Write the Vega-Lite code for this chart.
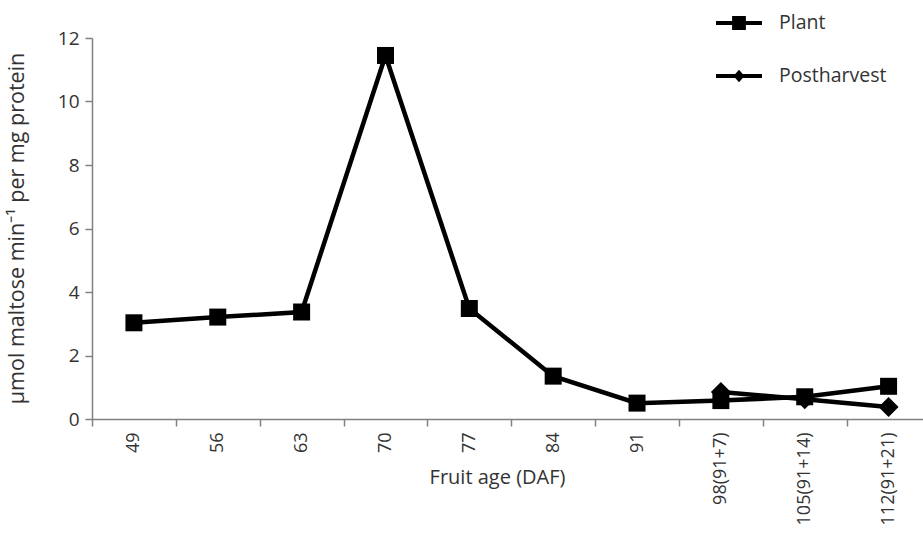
{
  "$schema": "https://vega.github.io/schema/vega-lite/v6.json",
  "autosize": "none",
  "width": 831,
  "height": 381,
  "padding": {"left": 92, "top": 38, "right": 0, "bottom": 114},
  "background": "white",
  "config": {
    "view": {"stroke": null},
    "font": "Open Sans",
    "axis": {"labelFont": "Open Sans", "titleFont": "Open Sans", "labelColor": "#333333", "titleColor": "#333333", "domainColor": "#808080", "tickColor": "#808080", "domainWidth": 1.5, "tickWidth": 1.5, "grid": false, "titleFontWeight": "normal"},
    "legend": {"labelFont": "Open Sans", "labelColor": "#333333"}
  },
  "data": {
    "values": [
      {"age": "49", "series": "Plant", "value": 3.03},
      {"age": "56", "series": "Plant", "value": 3.21},
      {"age": "63", "series": "Plant", "value": 3.37},
      {"age": "70", "series": "Plant", "value": 11.45},
      {"age": "77", "series": "Plant", "value": 3.48},
      {"age": "84", "series": "Plant", "value": 1.35},
      {"age": "91", "series": "Plant", "value": 0.5},
      {"age": "98(91+7)", "series": "Plant", "value": 0.58},
      {"age": "105(91+14)", "series": "Plant", "value": 0.7},
      {"age": "112(91+21)", "series": "Plant", "value": 1.03},
      {"age": "98(91+7)", "series": "Postharvest", "value": 0.85},
      {"age": "105(91+14)", "series": "Postharvest", "value": 0.62},
      {"age": "112(91+21)", "series": "Postharvest", "value": 0.38}
    ]
  },
  "encoding": {
    "x": {
      "field": "age", "type": "ordinal",
      "scale": {"type": "band", "domain": ["49", "56", "63", "70", "77", "84", "91", "98(91+7)", "105(91+14)", "112(91+21)"], "range": [0, 838.5], "paddingInner": 0, "paddingOuter": 0},
      "axis": {"title": "Fruit age (DAF)", "labelAngle": 270, "labelFontSize": 18, "titleFontSize": 20, "tickBand": "extent", "tickSize": 7, "labelPadding": 6, "titleX": 405, "titleY": 58, "titleBaseline": "middle", "titleAnchor": "middle", "titleAlign": "center"}
    },
    "y": {
      "field": "value", "type": "quantitative",
      "scale": {"domain": [0, 12], "nice": false, "zero": true},
      "axis": {"title": "µmol maltose min⁻¹ per mg protein", "values": [0, 2, 4, 6, 8, 10, 12], "labelFontSize": 19, "titleFontSize": 21.5, "tickSize": 7, "labelPadding": 6, "titleX": -75, "titleY": 190, "titleAngle": 270, "titleBaseline": "middle", "titleAlign": "center", "titleAnchor": "middle"}
    }
  },
  "layer": [
    {
      "mark": {"type": "line", "color": "black", "strokeWidth": 4.5},
      "encoding": {"detail": {"field": "series", "type": "nominal"}}
    },
    {
      "transform": [{"filter": "datum.series === 'Plant'"}],
      "mark": {"type": "point", "shape": "square", "filled": true, "color": "black", "opacity": 1, "size": 289}
    },
    {
      "transform": [{"filter": "datum.series === 'Postharvest'"}],
      "mark": {"type": "point", "shape": "diamond", "filled": true, "color": "black", "opacity": 1, "size": 400}
    },
    {
      "mark": {"type": "point", "filled": true, "color": "black", "opacity": 0, "size": 10},
      "encoding": {
        "shape": {
          "field": "series", "type": "nominal",
          "scale": {"domain": ["Plant", "Postharvest"], "range": ["M-1,-0.087H1V0.087H-1Z M-0.3,-0.3H0.3V0.3H-0.3Z", "M-1,-0.087H1V0.087H-1Z M0,-0.27L0.24,0L0,0.27L-0.24,0Z"]},
          "legend": {
            "title": null, "orient": "none", "legendX": 624, "legendY": -38, "padding": 0,
            "symbolSize": 2116, "symbolFillColor": "black", "symbolOpacity": 1, "symbolStrokeWidth": 0, "symbolStrokeColor": "black",
            "labelFontSize": 19.5, "labelOffset": 17, "rowPadding": 20
          }
        }
      }
    }
  ]
}
